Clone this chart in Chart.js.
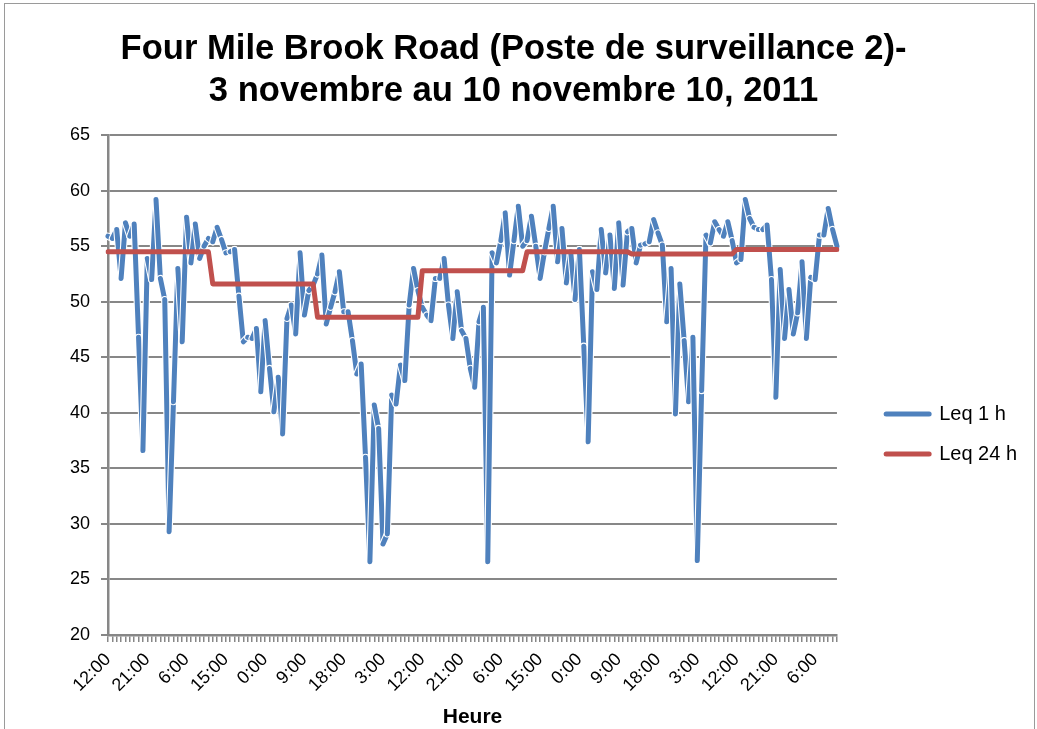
<!DOCTYPE html>
<html>
<head>
<meta charset="utf-8">
<title>Four Mile Brook Road - Leq</title>
<script src="https://cdn.jsdelivr.net/npm/chart.js@4/dist/chart.umd.min.js"></script>
<style>
    html, body { margin: 0; padding: 0; background: #fff; overflow: hidden; }
    #frame { position: absolute; left: 4px; top: 3px; width: 1029px; height: 760px;
             border: 1px solid #9a9a9a; border-bottom: none; }
    #wrap { position: absolute; left: 0; top: 0; width: 1037px; height: 729px; }
</style>
</head>
<body>
<div id="frame"></div>
<div id="wrap"><canvas id="leqChart" width="1037" height="729"></canvas></div>
<script>

/*  Leq 1 h / Leq 24 h, poste de surveillance 2  */

Chart.defaults.font.family = "'Liberation Sans', Arial, sans-serif";
Chart.defaults.color = '#000';


// DATA

var startHour = 12;        // first reading: 3 nov, 12:00
var labelStep = 9;         // one tick label every 9 h

var leq1h = [
    55.9, 55.7, 56.5, 52.1, 57.1, 55.9, 57.0, 46.8, 36.6, 53.9, 52.0, 59.2,
    52.1, 50.2, 29.3, 41.0, 53.0, 46.4, 57.6, 53.5, 57.0, 53.9, 55.0, 55.7,
    55.4, 56.7, 55.6, 54.4, 54.5, 54.7, 50.5, 46.4, 46.8, 46.7, 47.6, 41.9,
    48.3, 44.0, 40.1, 43.2, 38.1, 48.5, 49.7, 47.1, 54.4, 48.8, 51.0, 51.5,
    52.5, 54.2, 48.0, 49.5, 50.9, 52.7, 49.1, 49.1, 46.5, 43.5, 44.4, 36.0,
    26.6, 40.7, 38.6, 28.2, 29.1, 41.6, 40.8, 44.3, 42.9, 49.7, 53.0, 51.0,
    49.5, 48.8, 48.3, 52.1, 52.1, 53.9, 49.7, 46.7, 50.9, 47.4, 46.7, 44.0,
    42.3, 48.2, 49.5, 26.6, 54.4, 53.5, 55.5, 58.0, 52.4, 55.5, 58.6, 55.0,
    55.5, 57.7, 55.0, 52.1, 54.5, 56.6, 58.6, 53.6, 56.6, 51.7, 54.5, 50.2,
    54.7, 46.0, 37.4, 52.7, 51.1, 56.5, 52.6, 56.0, 51.2, 57.1, 51.5, 56.3,
    56.6, 53.5, 55.1, 55.2, 55.4, 57.4, 56.2, 55.1, 48.2, 53.0, 39.9, 51.6,
    46.5, 41.0, 46.8, 26.7, 42.0, 56.0, 55.3, 57.2, 56.5, 55.9, 57.2, 55.5,
    53.5, 53.8, 59.2, 57.5, 56.7, 56.5, 56.5, 56.9, 52.0, 41.4, 52.9, 46.7,
    51.1, 47.1, 49.0, 53.6, 46.7, 52.2, 52.0, 56.0, 56.0, 58.4, 56.5, 55.0
];

// one row per day (12:00 -> 11:00)
var leq24h = [
    54.5, 54.5, 54.5, 54.5, 54.5, 54.5, 54.5, 54.5, 54.5, 54.5, 54.5, 54.5, 54.5, 54.5, 54.5, 54.5, 54.5, 54.5, 54.5, 54.5, 54.5, 54.5, 54.5, 54.5,
    51.6, 51.6, 51.6, 51.6, 51.6, 51.6, 51.6, 51.6, 51.6, 51.6, 51.6, 51.6, 51.6, 51.6, 51.6, 51.6, 51.6, 51.6, 51.6, 51.6, 51.6, 51.6, 51.6, 51.6,
    48.6, 48.6, 48.6, 48.6, 48.6, 48.6, 48.6, 48.6, 48.6, 48.6, 48.6, 48.6, 48.6, 48.6, 48.6, 48.6, 48.6, 48.6, 48.6, 48.6, 48.6, 48.6, 48.6, 48.6,
    52.8, 52.8, 52.8, 52.8, 52.8, 52.8, 52.8, 52.8, 52.8, 52.8, 52.8, 52.8, 52.8, 52.8, 52.8, 52.8, 52.8, 52.8, 52.8, 52.8, 52.8, 52.8, 52.8, 52.8,
    54.5, 54.5, 54.5, 54.5, 54.5, 54.5, 54.5, 54.5, 54.5, 54.5, 54.5, 54.5, 54.5, 54.5, 54.5, 54.5, 54.5, 54.5, 54.5, 54.5, 54.5, 54.5, 54.5, 54.5,
    54.3, 54.3, 54.3, 54.3, 54.3, 54.3, 54.3, 54.3, 54.3, 54.3, 54.3, 54.3, 54.3, 54.3, 54.3, 54.3, 54.3, 54.3, 54.3, 54.3, 54.3, 54.3, 54.3, 54.3,
    54.7, 54.7, 54.7, 54.7, 54.7, 54.7, 54.7, 54.7, 54.7, 54.7, 54.7, 54.7, 54.7, 54.7, 54.7, 54.7, 54.7, 54.7, 54.7, 54.7, 54.7, 54.7, 54.7, 54.7
];

var hours = [];
for (var i = 0; i < leq1h.length; i++) {
    hours.push(((startHour + i) % 24) + ':00');
}

var titleLines = ['Four Mile Brook Road (Poste de surveillance 2)-',
                  '3 novembre au 10 novembre 10, 2011'];

var gridGrey = '#878787';




// Excel-like line: every segment stroked with a thin white rim

var rimLine = {
    id: 'rimLine',
    beforeDatasetDraw: function(chart, args) {
        if (args.index !== 0) return;

        var pts = args.meta.data;
        var ds = chart.data.datasets[0];
        var ctx = chart.ctx;

        ctx.save();
        ctx.lineCap = 'round';
        ctx.lineJoin = 'round';
        for (var k = 1; k < pts.length; k++) {
            ctx.beginPath();
            ctx.moveTo(pts[k - 1].x, pts[k - 1].y);
            ctx.lineTo(pts[k].x, pts[k].y);
            ctx.strokeStyle = '#ffffff';
            ctx.lineWidth = ds.borderWidth + 2.2;
            ctx.stroke();
            ctx.strokeStyle = ds.borderColor;
            ctx.lineWidth = ds.borderWidth;
            ctx.stroke();
        }
        ctx.restore();
        return false;
    }
};



var ctx_l = document.getElementById('leqChart').getContext('2d');

var leq_chart = new Chart(ctx_l, {
    type: 'line',

    data: {
        labels: hours,
        datasets: [{
            label: 'Leq 1 h',
            data: leq1h,
            borderColor: '#4F81BD',
            backgroundColor: '#4F81BD',
            borderWidth: 5,
            pointRadius: 0,
            tension: 0,
            order: 1,
        }, {
            label: 'Leq 24 h',
            data: leq24h,
            borderColor: '#C0504D',
            backgroundColor: '#C0504D',
            borderWidth: 5,
            borderCapStyle: 'round',
            borderJoinStyle: 'round',
            pointRadius: 0,
            tension: 0,
            order: 0,
        }],
    },

    options: {
        responsive: false,
        animation: false,
        layout: {
            padding: {left: 0, top: 0, right: 10, bottom: 0}},

        scales: {
            x: {
                grid: {
                    display: true,
                    drawOnChartArea: false,
                    drawTicks: true,
                    tickLength: 7,
                    color: gridGrey,
                    lineWidth: 1.5,},
                border: {color: gridGrey, width: 2.5},
                ticks: {
                    autoSkip: false,
                    minRotation: 45,
                    maxRotation: 45,
                    padding: 7,
                    font: {size: 18},
                    callback: function(value, index) {
                        return index % labelStep === 0 ? this.getLabelForValue(value) : '';},},
                title: {
                    display: true,
                    text: 'Heure',
                    font: {size: 21, weight: 'bold', lineHeight: 1},
                    padding: {top: 0, bottom: 1},},
                afterFit: function(scale) { scale.height = 94; },
            },
            y: {
                min: 20,
                max: 65,
                ticks: {
                    stepSize: 5,
                    padding: 11,
                    font: {size: 18},},
                grid: {
                    color: gridGrey,
                    lineWidth: 2,
                    tickLength: 7,},
                border: {color: gridGrey, width: 2.5},
                afterFit: function(scale) { scale.width = 108; },
            },
            gap: {
                type: 'linear',
                position: 'right',
                grid: {display: false, drawTicks: false},
                ticks: {display: false},
                border: {display: false},
                afterFit: function(scale) { scale.width = 29.2; },
            },
        },

        plugins: {
            title: {
                display: true,
                text: titleLines,
                font: {size: 34.6, weight: 'bold', lineHeight: 1.23},
                padding: {top: 28, bottom: 22},},

            legend: {
                display: true,
                position: 'right',
                fullSize: false,
                title: {
                    display: true,
                    text: ' ',
                    font: {size: 20},
                    padding: {top: 74, bottom: 0},},
                labels: {
                    usePointStyle: true,
                    pointStyle: 'line',
                    pointStyleWidth: 43,
                    padding: 20,
                    font: {size: 20},
                    sort: function(a, b) { return a.datasetIndex - b.datasetIndex; },
                    generateLabels: function(chart) {
                        var items = Chart.defaults.plugins.legend.labels.generateLabels(chart);
                        items.forEach(function(it) {
                            var ds = chart.data.datasets[it.datasetIndex];
                            it.lineCap = 'round';
                            it.lineWidth = 5;
                            it.strokeStyle = ds.borderColor;
                        });
                        return items;},},},

            tooltip: {enabled: false},
        },
    },

    plugins: [rimLine],
});

</script>
</body>
</html>
